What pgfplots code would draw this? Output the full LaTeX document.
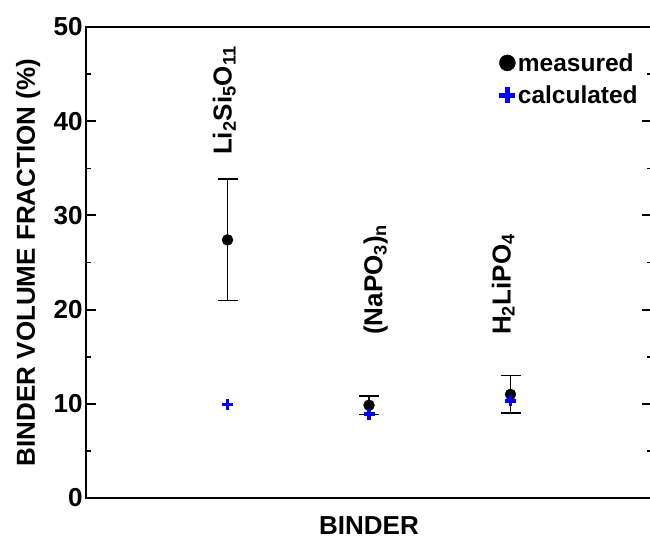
\documentclass[border=0pt]{standalone}
\usepackage{fontspec}
\setmainfont{Liberation Sans}
\usepackage{pgfplots}
\pgfplotsset{compat=1.18}

\newcommand{\bigbf}{\fontsize{26}{31}\selectfont\bfseries}

\begin{document}
\begin{tikzpicture}
\begin{axis}[
  scale only axis, width=566pt, height=471pt,
  at={(0pt,0pt)}, anchor=south west,
  xmin=0, xmax=4, ymin=0, ymax=50,
  xtick=\empty,
  ytick={0,10,...,50}, minor y tick num=1,
  tick align=inside, ytick pos=both, yticklabel pos=left,
  major tick length=10pt, minor tick length=5pt,
  every major tick/.append style={line width=2pt, black},
  every minor tick/.append style={line width=1.6pt, black},
  axis line style={line width=2.5pt},
  /pgf/number format/assume math mode=true,
  ticklabel style={font=\bigbf},
  ylabel={BINDER VOLUME FRACTION (\%)},
  xlabel={BINDER},
  every axis y label/.style={at={(axis description cs:-0.0903,0.5)}, anchor=base, rotate=90, font=\bigbf},
  every axis x label/.style={at={(axis description cs:0.5,-0.0785)}, anchor=base, font=\bigbf, inner sep=0pt},
  legend style={draw=none, fill=none, at={(axis cs:2.92,47.5)}, anchor=north west,
    inner sep=0pt, font=\fontsize{24.5}{29}\selectfont\bfseries, row sep=8pt,
    nodes={inner sep=2.5pt}},
  legend cell align=left,
]
\addplot[only marks, mark=*, mark size=5.5pt, black,
  legend image code/.code={\draw[black, fill=black] plot[mark=*, mark size=8pt] coordinates {(0pt,0pt)};},
  error bars/.cd, y dir=both, y explicit,
  error bar style={line width=1.5pt, black},
  error mark options={line width=1.5pt, mark size=10pt, black, rotate=90}]
  coordinates {(1,27.4) +- (0,6.45) (2,9.85) +- (0,1.0) (3,11.0) +- (0,2.0)};
\addlegendentry{measured}
\addplot[only marks, mark=+, mark size=5.5pt, blue, line width=3.5pt,
  legend image code/.code={\draw[blue, line width=5pt] plot[mark=+, mark size=8pt] coordinates {(0pt,0pt)};}]
  coordinates {(1,9.9) (2,8.9) (3,10.3)};
\addlegendentry{calculated}

\node[rotate=90, anchor=base west, font=\bigbf, inner sep=0pt] at (axis cs:1.03,36.4) {Li\textsubscript{2}Si\textsubscript{5}O\textsubscript{11}};
\node[rotate=90, anchor=base west, font=\bigbf, inner sep=0pt] at (axis cs:2.095,17.3) {(NaPO\textsubscript{3})\textsubscript{n}};
\node[rotate=90, anchor=base west, font=\bigbf, inner sep=0pt] at (axis cs:3.0,17.3) {H\textsubscript{2}LiPO\textsubscript{4}};
\end{axis}
\pgfresetboundingbox
\useasboundingbox (-86pt,-41pt) rectangle (564pt,498pt);
\end{tikzpicture}
\end{document}
